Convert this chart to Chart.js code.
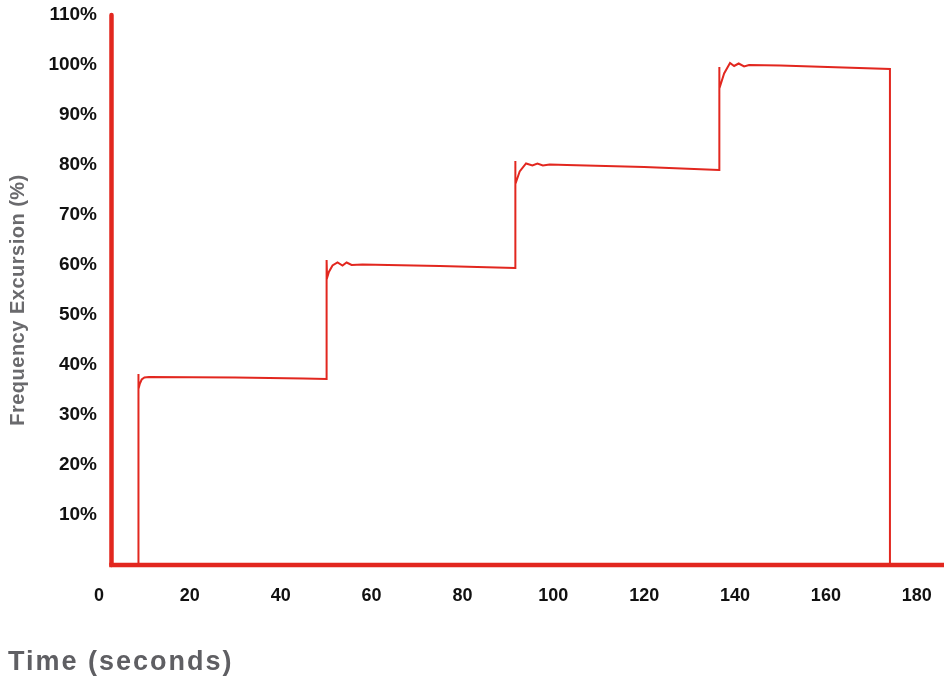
<!DOCTYPE html>
<html>
<head>
<meta charset="utf-8">
<script src="https://cdn.jsdelivr.net/npm/chart.js@4.4.1/dist/chart.umd.min.js"></script>
<style>
  html, body { margin: 0; padding: 0; background: #fff; }
  #wrap { width: 944px; height: 680px; }
</style>
</head>
<body>
<div id="wrap"><canvas id="freqChart" width="944" height="680"></canvas></div>
<script>
// step response
const timeSec = [
  8.6, 8.6, 8.66, 8.8, 9.0, 9.4, 10.0, 11.0, 30, 45, 50.1,
  50.1, 50.2, 50.6, 51.4, 52.5, 53.6, 54.5, 55.6, 58, 75, 91.6,
  91.6, 91.7, 92.6, 94.0, 95.4, 96.5, 97.7, 99.2, 103, 120, 136.5,
  136.5, 136.6, 137.6, 138.9, 139.8, 140.8, 142.0, 143.1, 150, 174.1,
  174.1
];
const excursionPct = [
  0, 33, 38.2, 35.2, 36.3, 37.1, 37.5, 37.6, 37.5, 37.3, 37.2,
  61.0, 57.4, 58.6, 59.9, 60.5, 59.9, 60.5, 60.0, 60.1, 59.8, 59.4,
  80.8, 76.2, 78.7, 80.3, 79.9, 80.3, 79.9, 80.1, 80.0, 79.6, 79.0,
  99.6, 95.3, 98.3, 100.4, 99.8, 100.3, 99.7, 100.0, 99.9, 99.2,
  0
];
const xTicks = [0, 20, 40, 60, 80, 100, 120, 140, 160, 180];
const yTicks = [10, 20, 30, 40, 50, 60, 70, 80, 90, 100, 110];
const axisStartSec = 2.75;

const RED = '#e2271f';
const FONT = '"Liberation Sans", Arial, Helvetica, sans-serif';

const points = timeSec.map((t, i) => ({ x: t, y: excursionPct[i] }));

// red axes drawn by hand so they can start a bit right of 0
const axesPlugin = {
  id: 'redAxes',
  afterDatasetsDraw(chart) {
    const { ctx, scales: { x, y } } = chart;
    const x0 = x.getPixelForValue(axisStartSec);
    const yTop = y.getPixelForValue(110);
    const yBot = y.getPixelForValue(0);
    ctx.save();
    ctx.strokeStyle = RED;
    ctx.lineWidth = 4.5;
    ctx.lineCap = 'round';
    ctx.beginPath();
    ctx.moveTo(x0, yTop);
    ctx.lineTo(x0, yBot);
    ctx.stroke();
    ctx.lineCap = 'butt';
    ctx.beginPath();
    ctx.moveTo(x0 - 2.25, yBot);
    ctx.lineTo(chart.width, yBot);
    ctx.stroke();
    ctx.restore();
  }
};

const titlesPlugin = {
  id: 'axisTitles',
  afterDraw(chart) {
    const ctx = chart.ctx;
    ctx.save();
    ctx.fillStyle = '#5f5f63';
    ctx.font = 'bold 27px ' + FONT;
    ctx.letterSpacing = '2px';
    ctx.textAlign = 'left';
    ctx.textBaseline = 'alphabetic';
    ctx.fillText('Time (seconds)', 8, 670);

    ctx.fillStyle = '#6a6a6d';
    ctx.font = 'bold 20px ' + FONT;
    ctx.letterSpacing = '0.5px';
    ctx.translate(24, 300);
    ctx.rotate(-Math.PI / 2);
    ctx.textAlign = 'center';
    ctx.fillText('Frequency Excursion (%)', 0, 0);
    ctx.restore();
  }
};

new Chart(document.getElementById('freqChart'), {
  type: 'line',
  data: {
    datasets: [{
      data: points,
      borderColor: RED,
      borderWidth: 2,
      pointRadius: 0,
      tension: 0,
      fill: false
    }]
  },
  options: {
    responsive: false,
    animation: false,
    devicePixelRatio: 1,
    layout: { padding: { top: 15, right: 0, left: 0, bottom: 0 } },
    plugins: {
      legend: { display: false },
      tooltip: { enabled: false },
      title: { display: false }
    },
    scales: {
      x: {
        type: 'linear',
        min: 0,
        max: 186,
        afterFit(s) { s.height = 115; s.paddingRight = 0; s.paddingLeft = 0; },
        afterBuildTicks(s) { s.ticks = xTicks.map(v => ({ value: v })); },
        grid: { display: false, drawTicks: false },
        border: { display: false },
        ticks: {
          autoSkip: false,
          maxRotation: 0,
          padding: 20,
          color: '#111',
          font: { family: FONT, size: 18, weight: 'bold' }
        }
      },
      y: {
        min: 0,
        max: 110,
        afterFit(s) { s.width = 99; },
        afterBuildTicks(s) { s.ticks = yTicks.map(v => ({ value: v })); },
        grid: { display: false, drawTicks: false },
        border: { display: false },
        ticks: {
          padding: 2,
          color: '#111',
          font: { family: FONT, size: 19, weight: 'bold' },
          callback: v => v + '%'
        }
      }
    }
  },
  plugins: [axesPlugin, titlesPlugin]
});
</script>
</body>
</html>
